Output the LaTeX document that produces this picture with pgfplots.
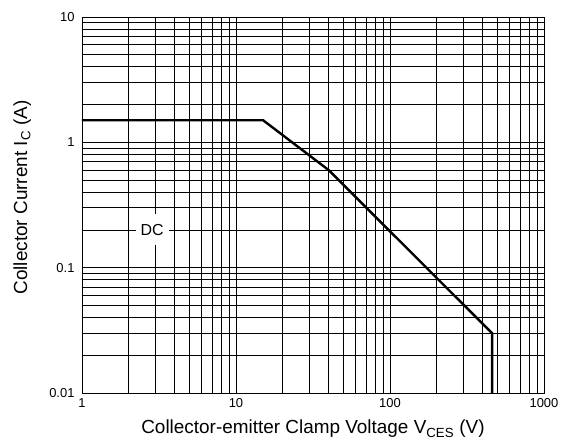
\documentclass[border=0pt]{standalone}
\usepackage{fontspec}
\setmainfont{Liberation Sans}
\usepackage{pgfplots}
\pgfplotsset{compat=1.18}

\begin{document}
\begin{tikzpicture}
\begin{axis}[
  name=ax,
  xmode=log, ymode=log,
  xmin=1, xmax=1000, ymin=0.01, ymax=10,
  scale only axis,
  width=462bp, height=376bp,
  xtick={1,10,100,1000}, xticklabels={1,10,100,1000},
  ytick={0.01,0.1,1,10}, yticklabels={0.01,0.1,1,10},
  minor xtick={2,3,4,5,6,7,8,9,20,30,40,50,60,70,80,90,200,300,400,500,600,700,800,900},
  minor ytick={0.02,0.03,0.04,0.05,0.06,0.07,0.08,0.09,0.2,0.3,0.4,0.5,0.6,0.7,0.8,0.9,2,3,4,5,6,7,8,9},
  grid=both,
  major grid style={black, line width=0.75bp},
  minor grid style={black, line width=0.75bp},
  axis line style={black, line width=0.9bp},
  major tick length=0pt, minor tick length=0pt,
  tick label style={font=\fontsize{13}{13}\selectfont},
  xticklabel style={yshift=-2bp},
  yticklabel style={xshift=-4bp},
  label style={font=\fontsize{19}{19}\selectfont},
  xlabel={Collector-emitter Clamp Voltage V\textsubscript{CES} (V)},
  ylabel={Collector Current I\textsubscript{C} (A)},
  xlabel style={at={(axis description cs:0.5,-0.1090)}, anchor=base},
  ylabel style={at={(axis description cs:-0.1190,0.52)}, anchor=base},
]
\addplot[black, line width=2.4bp, line join=miter] coordinates {
  (1,1.5) (15,1.5) (40,0.6) (460,0.03) (460,0.01)
};
\node[fill=white, inner xsep=5bp, minimum height=31bp,
      font=\fontsize{16}{16}\selectfont] at (axis cs:2.85,0.2) {DC};
\end{axis}
\pgfresetboundingbox
\path ([xshift=-82bp,yshift=-49bp]ax.south west) rectangle ([xshift=24bp,yshift=17bp]ax.north east);
\end{tikzpicture}
\end{document}
